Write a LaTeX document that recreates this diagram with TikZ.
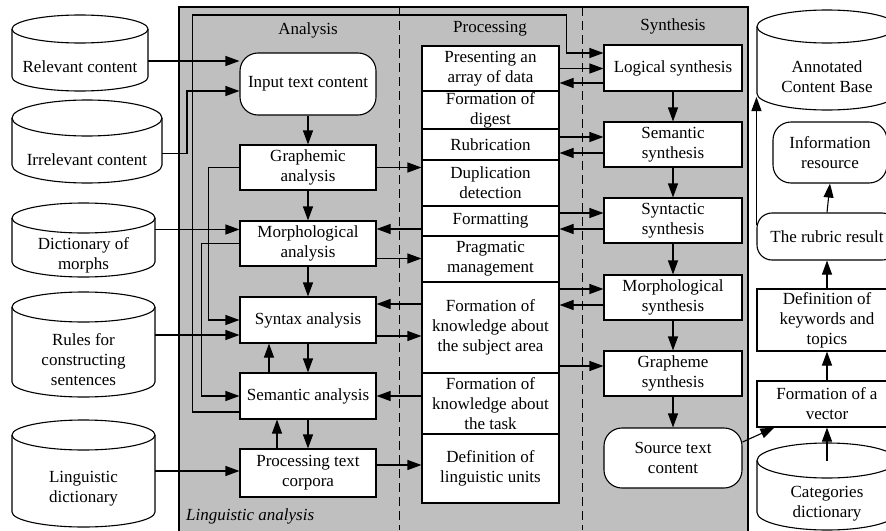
\documentclass[tikz,border=0pt]{standalone}
\usepackage{fontspec}
\setmainfont{Liberation Serif}
\usetikzlibrary{arrows.meta}

% database vertex: name, x, y, width, height, ellipse radius, label
\newcommand{\Database}[7]{%
	\node[dbStyle, minimum width = #4pt, minimum height = #5pt] (#1) at (#2,#3) {#7};
	\draw[lineStyle] ([yshift = #6pt]#1.north west) -- ([yshift = #6pt]#1.south west)
		arc[start angle = 180, end angle = 360, x radius = #4pt/2, y radius = #6pt]
		-- ([yshift = #6pt]#1.north east);
	\draw[lineStyle] ([yshift = #6pt]#1.north) ellipse[x radius = #4pt/2, y radius = #6pt];
}

\begin{document}
\begin{tikzpicture}[x = 1pt, y = -1pt]
	\tikzstyle{every node} = [font = \fontsize{17}{20}\selectfont]
	\tikzstyle{lineStyle} = [line width = 1.1pt]
	\tikzstyle{arrowStyle} = [lineStyle, -{Triangle[length = 14pt, width = 10pt]}]
	\tikzstyle{panelStyle} = [lineStyle, fill = black!25]
	\tikzstyle{dashStyle} = [line width = 1pt, dash pattern = on 9pt off 5pt]
	\tikzstyle{boxStyle} = [shape = rectangle, draw, lineStyle, fill = white, inner sep = 0pt, align = center]
	\tikzstyle{roundStyle} = [boxStyle, rounded corners = 18pt]
	\tikzstyle{anaStyle} = [boxStyle, minimum width = 136pt]
	\tikzstyle{procStyle} = [boxStyle, minimum width = 137pt]
	\tikzstyle{synStyle} = [boxStyle, minimum width = 138pt]
	\tikzstyle{dbStyle} = [shape = rectangle, inner sep = 0pt, outer sep = 0pt, align = center]
	\tikzstyle{titleStyle} = [inner sep = 0pt]
	\useasboundingbox (0,0) rectangle (886,530);
	% panel
	\draw[panelStyle] (179,7) rectangle (748,545);
	\draw[dashStyle] (399,7) -- (399,530);
	\draw[dashStyle] (582,7) -- (582,530);
	\node[titleStyle] (t0) at (308,30) {Analysis};
	\node[titleStyle] (t1) at (490,29) {Processing};
	\node[titleStyle] (t2) at (673,26) {Synthesis};
	\node[titleStyle, anchor = west, font = \fontsize{17}{20}\selectfont\itshape] (t3) at (186,516) {Linguistic analysis};
	% analysis
	\node[roundStyle, minimum width = 136pt, minimum height = 62pt] (a0) at (308,84) {Input text content};
	\node[anaStyle, minimum height = 45pt] (a1) at (308,167.5) {Graphemic\\analysis};
	\node[anaStyle, minimum height = 45pt] (a2) at (308,243.5) {Morphological\\analysis};
	\node[anaStyle, minimum height = 46pt] (a3) at (308,320) {Syntax analysis};
	\node[anaStyle, minimum height = 46pt] (a4) at (308,396) {Semantic analysis};
	\node[anaStyle, minimum height = 48pt] (a5) at (308,473) {Processing text\\corpora};
	% processing
	\node[procStyle, minimum height = 45pt] (p0) at (490.5,68.5) {Presenting an\\array of data};
	\node[procStyle, minimum height = 38pt] (p1) at (490.5,110) {Formation of\\digest};
	\node[procStyle, minimum height = 31pt] (p2) at (490.5,144.5) {Rubrication};
	\node[procStyle, minimum height = 46pt] (p3) at (490.5,183) {Duplication\\detection};
	\node[procStyle, minimum height = 30pt] (p4) at (490.5,221) {Formatting};
	\node[procStyle, minimum height = 46pt] (p5) at (490.5,259) {Pragmatic\\management};
	\node[procStyle, minimum height = 91pt] (p6) at (490.5,327.5) {Formation of\\knowledge about\\the subject area};
	\node[procStyle, minimum height = 61pt] (p7) at (490.5,403.5) {Formation of\\knowledge about\\the task};
	\node[procStyle, minimum height = 69pt] (p8) at (490.5,468.5) {Definition of\\linguistic units};
	% synthesis
	\node[synStyle, minimum height = 46pt] (s0) at (673,68) {Logical synthesis};
	\node[synStyle, minimum height = 45pt] (s1) at (673,144.5) {Semantic\\synthesis};
	\node[synStyle, minimum height = 45pt] (s2) at (673,220.5) {Syntactic\\synthesis};
	\node[synStyle, minimum height = 45pt] (s3) at (673,297.5) {Morphological\\synthesis};
	\node[synStyle, minimum height = 45pt] (s4) at (673,373.5) {Grapheme\\synthesis};
	\node[roundStyle, minimum width = 138pt, minimum height = 60pt] (s5) at (673,458) {Source text\\content};
	% sources
	\Database{d0}{80}{67}{136}{48}{14}{Relevant content}
	\Database{d1}{87}{159.5}{150}{47}{18}{Irrelevant content}
	\Database{d2}{83.5}{255}{143}{44}{15}{Dictionary of\\morphs}
	\Database{d3}{83.5}{359.5}{143}{75}{15}{Rules for\\constructing\\sentences}
	\Database{d4}{83.5}{488.5}{143}{77}{15}{Linguistic\\dictionary}
	% results
	\Database{r0}{827}{76.5}{140}{67}{16.5}{Annotated\\Content Base}
	\node[roundStyle, minimum width = 114pt, minimum height = 61pt] (r1) at (830,152.5) {Information\\resource};
	\node[roundStyle, minimum width = 140pt, minimum height = 47pt, rounded corners = 15pt] (r2) at (827,236.5) {The rubric result};
	\node[boxStyle, minimum width = 140pt, minimum height = 62pt] (r3) at (827,320) {Definition of\\keywords and\\topics};
	\node[boxStyle, minimum width = 140pt, minimum height = 46pt] (r4) at (827,404) {Formation of a\\vector};
	\Database{r5}{827}{504}{140}{52}{17.5}{Categories\\dictionary}
	% inputs to analysis
	\draw[arrowStyle] ([yshift = 6pt]d0.east) -- ([yshift = 6pt]d0.east -| a0.west);
	\draw[arrowStyle] ([yshift = 6pt]d1.east) -- ++(25,0) |- ([yshift = -7pt]a0.west);
	\draw[arrowStyle] ([yshift = 14pt]a2.west -| d2.east) -- ([yshift = 14pt]a2.west);
	\draw[arrowStyle] ([yshift = -15pt]a3.west -| d3.east) -- ([yshift = -15pt]a3.west);
	\draw[arrowStyle] ([yshift = 2pt]a5.west -| d4.east) -- ([yshift = 2pt]a5.west);
	% analysis chain
	\draw[arrowStyle] (a0.south) -- (a1.north);
	\draw[arrowStyle] (a1.south) -- (a2.north);
	\draw[arrowStyle] (a2.south) -- (a3.north);
	\draw[arrowStyle] (a3.south) -- (a4.north);
	\draw[arrowStyle] ([xshift = -39pt]a4.north) -- ([xshift = -39pt]a3.south);
	\draw[arrowStyle] (a4.south) -- (a5.north);
	\draw[arrowStyle] ([xshift = -31pt]a5.north) -- ([xshift = -31pt]a4.south);
	\draw[arrowStyle] (a1.west) -- ++(-31,0) |- (a3.west);
	\draw[arrowStyle] (a2.west) -- ++(-38,0) |- (a4.west);
	\draw[arrowStyle] ([yshift = -16pt]a4.west) -- ++(-47,0) -- ++(0,-397) -- ++(374,0) |- ([yshift = 15pt]s0.west);
	% analysis <-> processing
	\draw[arrowStyle] (a1.east) -- (a1.east -| p3.west);
	\draw[arrowStyle] ([yshift = -8pt]p4.west) -- ([yshift = -8pt]p4.west -| a2.east);
	\draw[arrowStyle] ([yshift = -15pt]a2.east) -- ([yshift = -15pt]a2.east -| p5.west);
	\draw[arrowStyle] ([yshift = 16pt]a3.east -| p6.west) -- ([yshift = 16pt]a3.east);
	\draw[arrowStyle] ([yshift = -16pt]a3.east) -- ([yshift = -16pt]a3.east -| p6.west);
	\draw[arrowStyle] (a4.east -| p7.west) -- (a4.east);
	\draw[arrowStyle] ([yshift = 8pt]a5.east) -- ([yshift = 8pt]a5.east -| p8.west);
	% processing <-> synthesis
	\draw[arrowStyle] (p0.east) -- (p0.east -| s0.west);
	\draw[arrowStyle] ([yshift = -15pt]s0.west) -- ([yshift = -15pt]s0.west -| p0.east);
	\draw[arrowStyle] ([yshift = 7.5pt]s1.west -| p2.east) -- ([yshift = 7.5pt]s1.west);
	\draw[arrowStyle] ([yshift = -8.5pt]s1.west) -- ([yshift = -8.5pt]s1.west -| p2.east);
	\draw[arrowStyle] ([yshift = 7.5pt]s2.west -| p4.east) -- ([yshift = 7.5pt]s2.west);
	\draw[arrowStyle] ([yshift = -8.5pt]s2.west) -- ([yshift = -8.5pt]s2.west -| p4.east);
	\draw[arrowStyle] ([yshift = 8.5pt]s3.west -| p6.east) -- ([yshift = 8.5pt]s3.west);
	\draw[arrowStyle] ([yshift = -7.5pt]s3.west) -- ([yshift = -7.5pt]s3.west -| p6.east);
	\draw[arrowStyle] ([yshift = 7.5pt]s4.west -| p6.east) -- ([yshift = 7.5pt]s4.west);
	% synthesis chain
	\draw[arrowStyle] (s0.south) -- (s1.north);
	\draw[arrowStyle] (s1.south) -- (s2.north);
	\draw[arrowStyle] (s2.south) -- (s3.north);
	\draw[arrowStyle] (s3.south) -- (s4.north);
	\draw[arrowStyle] (s4.south) -- (s5.north);
	% results chain
	\draw[arrowStyle] ([yshift = 16pt]s5.east) -- ([xshift = 18pt]r4.south west);
	\draw[arrowStyle] ([yshift = 17.5pt]r5.north) -- (r4.south);
	\draw[arrowStyle] (r4.north) -- (r3.south);
	\draw[arrowStyle] (r3.north) -- (r2.south);
	\draw[arrowStyle] (r2.north) -- (r1.south);
	\draw[arrowStyle] ([yshift = 12pt]r2.west) -- ([yshift = 13pt]r2.west |- r0.south);
\end{tikzpicture}
\end{document}
